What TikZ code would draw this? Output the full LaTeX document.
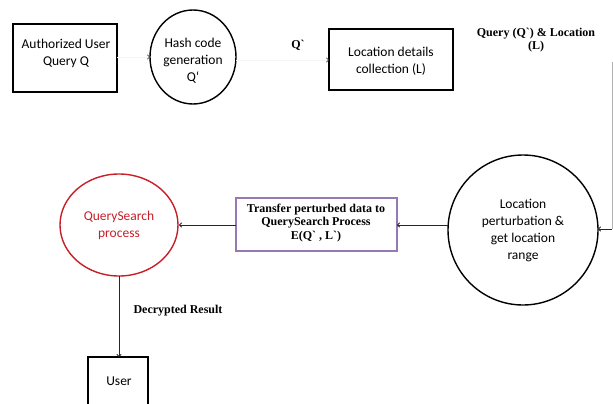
\documentclass[tikz,border=0pt]{standalone}
\usepackage{fontspec}
\setmainfont{Carlito}
\newfontfamily\labelfont{Liberation Serif}
\usetikzlibrary{arrows.meta}
\definecolor{boxpurple}{RGB}{150,120,180}
\definecolor{searchred}{RGB}{200,30,40}
\begin{document}
\begin{tikzpicture}[x=1pt,y=-1pt,
  every node/.style={align=center,inner sep=0pt},
  boxtext/.style={font=\fontsize{13.5}{17}\selectfont},
  lbl/.style={font=\labelfont\bfseries\fontsize{12}{13.5}\selectfont},
  blackbox/.style={draw=black,line width=1.4pt},
  ring/.style={draw=black,line width=1.4pt},
  link/.style={draw=black!85,line width=0.9pt,-{To[length=3pt,width=5pt]}},
  faint/.style={draw=gray!8,line width=0.6pt,-{To[length=3pt,width=5pt,color=black!75]}}
]
\useasboundingbox (0,0) rectangle (613,404);

% top row
\draw[blackbox] (13,24) rectangle (117,92);
\node[boxtext] (auth) at (66,53) {Authorized User\\Query Q};
\coordinate (authE) at (117,57);

\draw[ring] (193,57) ellipse [x radius=43, y radius=47];
\node[boxtext] (hash) at (193,61) {Hash code\\generation\\Q`};
\coordinate (hashW) at (150,57);
\coordinate (hashE) at (236,60);

\node[lbl] (qlab) at (298,45) {Q`};

\draw[blackbox] (329,29) rectangle (453,90);
\node[boxtext] (loc) at (391,61) {Location details\\collection (L)};
\coordinate (locW) at (329,60);

\node[lbl] (ql) at (536,40) {Query (Q`) \& Location\\(L)};

\draw[faint] (authE) -- (hashW);
\draw[faint] (hashE) -- (locW);

% perturbation circle and feed line
\draw[ring] (523,230) circle [radius=75];
\node[boxtext] (pert) at (523,230) {Location\\perturbation \&\\get location\\range};
\coordinate (pertW) at (448,225);
\coordinate (pertE) at (598,229);
\coordinate (feedTop) at (612,62);
\coordinate (feedBot) at (612,229);
\draw[draw=gray!60,line width=0.8pt] (feedTop) -- (feedBot);
\draw[link] (feedBot) -- (pertE);

% transfer box
\draw[draw=boxpurple,line width=1.1pt] (236,198) rectangle (397,251);
\node[lbl] (xfer) at (316,223) {Transfer perturbed data to\\QuerySearch Process\\E(Q` , L`)};
\coordinate (xferE) at (397,225);
\coordinate (xferW) at (236,225);
\draw[link] (pertW) -- (xferE);

% search circle
\draw[draw=searchred,line width=1.4pt] (119,225) ellipse [x radius=59, y radius=51];
\node[boxtext,text=searchred] (search) at (119,225) {QuerySearch\\process};
\coordinate (searchE) at (179,225);
\coordinate (searchS) at (119,276);
\draw[link] (xferW) -- (searchE);

% user box
\draw[blackbox] (88,357) rectangle (148,410);
\node[boxtext] (user) at (119,381) {User};
\coordinate (userN) at (119,357);
\draw[link] (searchS) -- (userN);
\node[lbl] (dec) at (178,311) {Decrypted Result};
\end{tikzpicture}
\end{document}
